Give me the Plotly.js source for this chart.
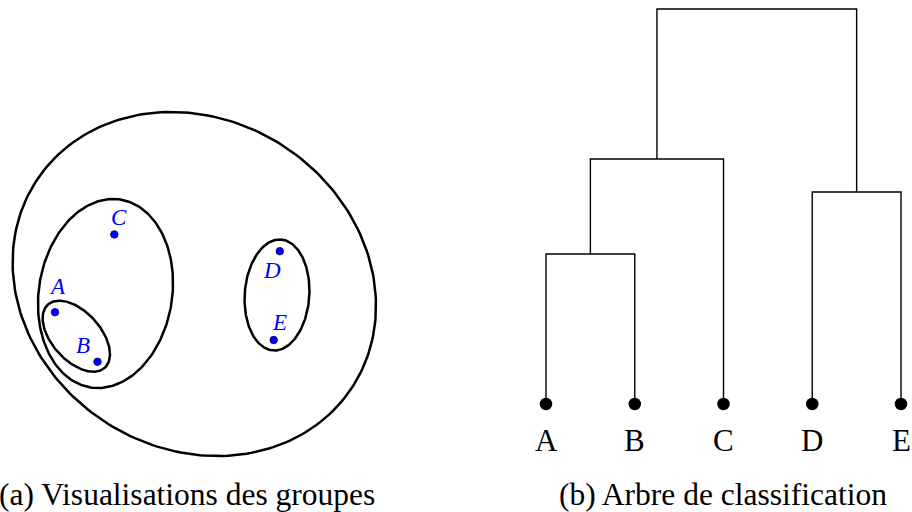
<!DOCTYPE html>
<html>
<head>
<meta charset="utf-8">
<script src="https://cdn.plot.ly/plotly-3.0.1.min.js"></script>
<style>html,body{margin:0;padding:0;background:#fff;}#chart{width:912px;height:512px;}</style>
</head>
<body>
<div id="chart"></div>
<script>
// ---- Data: (a) points in the plane ----
const pointNames = ['A', 'B', 'C', 'D', 'E'];
const pointX = [55.0, 97.5, 114.3, 279.8, 273.7];
const pointY = [312.2, 361.7, 234.4, 251.2, 340.0];

// ---- Data: (a) group ellipses (centre, semi-axes, rotation in degrees) ----
const groupNames = ['ABCDE', 'ABC', 'DE', 'AB'];
const groupCX = [194.3, 105.5, 277.0, 76.3];
const groupCY = [284.0, 293.5, 295.0, 336.2];
const groupA = [188.7, 95.1, 55.6, 42.5];
const groupB = [164.3, 66.7, 32.3, 24.3];
const groupAngle = [33.3, -81.0, -86.0, 48.0];

// ---- Data: (b) dendrogram ----
const leaves = ['A', 'B', 'C', 'D', 'E'];
// merges: left node, right node, height; nodes >= 5 are clusters created in order
const mergeLeft = [0, 3, 5, 7];
const mergeRight = [1, 4, 2, 6];
const mergeHeight = [1.50, 2.12, 2.45, 3.95];

// ---- Styling / layout helpers ----
const labelDX = [2.3, -14.2, 5.0, -7.5, 5.6];
const labelDY = [-25.5, -16.7, -17.0, 19.5, -17.3];
const serif = 'Liberation Serif, DejaVu Serif, serif';

const traces = [];

// ellipses
for (let g = 0; g < groupNames.length; g++) {
  const xs = [], ys = [];
  const th = groupAngle[g] * Math.PI / 180;
  const N = 240;
  for (let k = 0; k <= N; k++) {
    const t = 2 * Math.PI * k / N;
    const u = groupA[g] * Math.cos(t), v = groupB[g] * Math.sin(t);
    xs.push(groupCX[g] + u * Math.cos(th) - v * Math.sin(th));
    ys.push(groupCY[g] + u * Math.sin(th) + v * Math.cos(th));
  }
  traces.push({x: xs, y: ys, xaxis: 'x', yaxis: 'y', mode: 'lines',
    line: {color: '#000', width: 2.5}, hoverinfo: 'skip', showlegend: false});
}

// points
traces.push({x: pointX, y: pointY, xaxis: 'x', yaxis: 'y', mode: 'markers',
  marker: {size: 7.5, color: '#0000ff', line: {color: '#000066', width: 0.8}},
  showlegend: false, hoverinfo: 'text', text: pointNames});

// dendrogram
const nodeX = leaves.map((_, i) => i);
const nodeH = leaves.map(() => 0);
const dx = [], dy = [];
for (let m = 0; m < mergeHeight.length; m++) {
  const l = mergeLeft[m], r = mergeRight[m], h = mergeHeight[m];
  const a = nodeX[l] <= nodeX[r] ? l : r;
  const b = a === l ? r : l;
  dx.push(nodeX[a], nodeX[a], nodeX[b], nodeX[b], null);
  dy.push(nodeH[a], h, h, nodeH[b], null);
  nodeX.push((nodeX[l] + nodeX[r]) / 2);
  nodeH.push(h);
}
traces.push({x: dx, y: dy, xaxis: 'x2', yaxis: 'y2', mode: 'lines',
  line: {color: '#000', width: 1.4}, hoverinfo: 'skip', showlegend: false});
traces.push({x: leaves.map((_, i) => i), y: leaves.map(() => 0), xaxis: 'x2', yaxis: 'y2',
  mode: 'markers', marker: {size: 12.5, color: '#000'}, showlegend: false,
  text: leaves, hoverinfo: 'text', cliponaxis: false});

const annotations = [];
for (let i = 0; i < pointNames.length; i++) {
  annotations.push({x: pointX[i] + labelDX[i], y: pointY[i] + labelDY[i], xref: 'x', yref: 'y',
    xanchor: 'center', yanchor: 'middle',
    text: '<i>' + pointNames[i] + '</i>', showarrow: false,
    font: {family: serif, size: 23, color: '#0000ff'}});
}
leaves.forEach((n, i) => annotations.push({x: i, y: -0.36, xref: 'x2', yref: 'y2', text: n,
  xanchor: 'center', yanchor: 'middle',
  showarrow: false, font: {family: serif, size: 31, color: '#000'}}));
annotations.push({x: 187 / 912, y: 1 - 494 / 512, xref: 'paper', yref: 'paper',
  xanchor: 'center', yanchor: 'middle',
  text: '(a) Visualisations des groupes', showarrow: false,
  font: {family: serif, size: 31.5, color: '#000'}});
annotations.push({x: 723 / 912, y: 1 - 494 / 512, xref: 'paper', yref: 'paper',
  xanchor: 'center', yanchor: 'middle',
  text: '(b) Arbre de classification', showarrow: false,
  font: {family: serif, size: 31.5, color: '#000'}});

const hidden = {visible: false, showgrid: false, zeroline: false, fixedrange: true};
const layout = {
  width: 912, height: 512,
  margin: {l: 0, r: 0, t: 0, b: 0, pad: 0},
  paper_bgcolor: '#fff', plot_bgcolor: 'rgba(0,0,0,0)',
  showlegend: false,
  xaxis: Object.assign({}, hidden, {domain: [0, 1], range: [0, 912], anchor: 'y'}),
  yaxis: Object.assign({}, hidden, {domain: [0, 1], range: [512, 0], anchor: 'x'}),
  xaxis2: Object.assign({}, hidden, {domain: [0, 1], range: [-546 / 88.75, (912 - 546) / 88.75], anchor: 'y2'}),
  yaxis2: Object.assign({}, hidden, {domain: [0, 1], range: [-1.08, 4.04], anchor: 'x2'}),
  annotations: annotations
};

Plotly.newPlot('chart', traces, layout, {staticPlot: true, displayModeBar: false});
</script>
</body>
</html>
